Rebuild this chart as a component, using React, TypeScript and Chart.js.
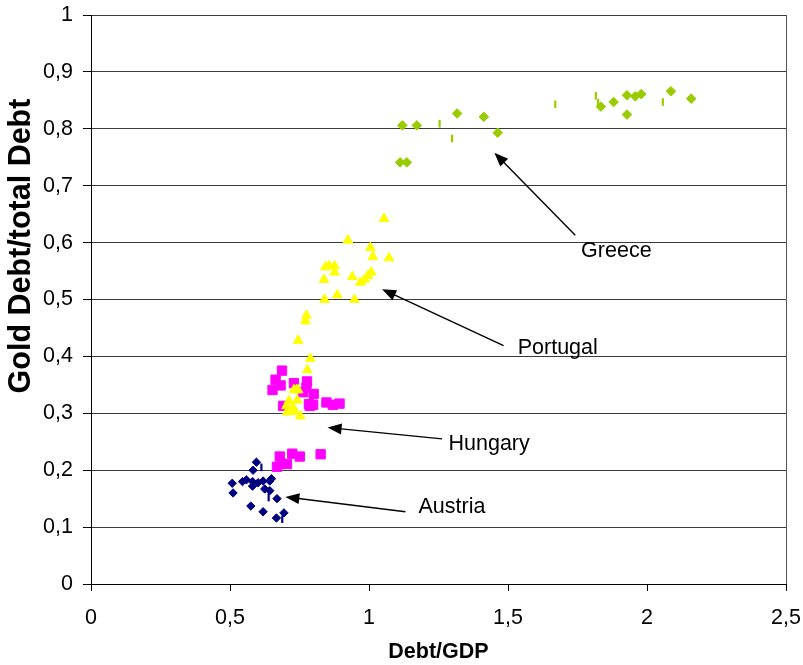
import React, { useEffect, useRef } from 'react';
import { Chart, registerables } from 'chart.js';

Chart.register(...registerables);

const FONT = '"Liberation Sans", Arial, sans-serif';

// ---- Data ----
const austriaX = [0.595, 0.583, 0.508, 0.511, 0.545, 0.559, 0.581, 0.581, 0.601, 0.619, 0.643, 0.649, 0.625, 0.643, 0.669, 0.575, 0.619, 0.667, 0.694];
const austriaY = [0.214, 0.200, 0.177, 0.160, 0.180, 0.183, 0.180, 0.172, 0.178, 0.181, 0.181, 0.185, 0.167, 0.164, 0.150, 0.137, 0.127, 0.116, 0.125];
const austriaTickX = [0.613, 0.639, 0.688];
const austriaTickY = [0.205, 0.152, 0.114];

const hungaryX = [0.669, 0.679, 0.685, 0.705, 0.724, 0.751, 0.826, 0.687, 0.664, 0.682, 0.653, 0.730, 0.777, 0.775, 0.801, 0.763, 0.784, 0.799, 0.847, 0.870, 0.894, 0.691, 0.787];
const hungaryY = [0.206, 0.224, 0.211, 0.211, 0.229, 0.224, 0.228, 0.375, 0.359, 0.349, 0.341, 0.353, 0.356, 0.345, 0.334, 0.337, 0.316, 0.315, 0.319, 0.315, 0.317, 0.313, 0.313];

const portugalX = [1.054, 0.924, 1.005, 1.014, 1.072, 0.843, 0.856, 0.876, 0.876, 0.838, 0.940, 1.008, 0.996, 0.984, 0.969, 0.840, 0.886, 0.948, 0.775, 0.771, 0.745, 0.789, 0.778, 0.739, 0.730, 0.745, 0.712, 0.742, 0.703, 0.727, 0.705, 0.733, 0.753];
const portugalY = [0.642, 0.604, 0.591, 0.575, 0.573, 0.557, 0.559, 0.559, 0.548, 0.535, 0.540, 0.548, 0.542, 0.535, 0.530, 0.500, 0.508, 0.500, 0.472, 0.462, 0.428, 0.396, 0.376, 0.341, 0.341, 0.341, 0.322, 0.323, 0.313, 0.310, 0.302, 0.303, 0.295];

const greeceX = [1.120, 1.172, 1.317, 1.413, 1.463, 1.834, 1.880, 1.928, 1.928, 1.958, 1.979, 2.086, 2.159, 1.112, 1.136];
const greeceY = [0.806, 0.806, 0.827, 0.821, 0.793, 0.839, 0.847, 0.859, 0.825, 0.857, 0.861, 0.866, 0.853, 0.741, 0.741];
const greeceTickX = [1.254, 1.299, 1.670, 1.816, 1.824, 2.057];
const greeceTickY = [0.809, 0.783, 0.843, 0.858, 0.846, 0.847];

const xTickLabels = ['0', '0,5', '1', '1,5', '2', '2,5'];
const yTickLabels = ['0', '0,1', '0,2', '0,3', '0,4', '0,5', '0,6', '0,7', '0,8', '0,9', '1'];

const noteLabels = ['Greece', 'Portugal', 'Hungary', 'Austria'];
const noteTipX = [1.451, 1.047, 0.851, 0.699];
const noteTipY = [0.758, 0.518, 0.275, 0.153];
const noteTailX = [1.742, 1.484, 1.263, 1.131];
const noteTailY = [0.613, 0.419, 0.255, 0.127];
const noteTextX = [1.763, 1.535, 1.286, 1.178];
const noteTextY = [0.585, 0.414, 0.2455, 0.136];

const xTitle = 'Debt/GDP';
const yTitle = 'Gold Debt/total Debt';

const zip = (xs: number[], ys: number[]) => xs.map((x, i) => ({ x, y: ys[i] }));

const annotationPlugin = {
  id: 'notes',
  afterDatasetsDraw(chart: any) {
    const { ctx, chartArea, scales } = chart;
    const xs = scales.x;
    const ys = scales.y;
    ctx.save();
    // right border of plot area
    ctx.strokeStyle = '#555';
    ctx.lineWidth = 1;
    ctx.beginPath();
    ctx.moveTo(Math.round(chartArea.right) + 0.5, chartArea.top);
    ctx.lineTo(Math.round(chartArea.right) + 0.5, chartArea.bottom);
    ctx.stroke();

    ctx.strokeStyle = '#000';
    ctx.fillStyle = '#000';
    ctx.lineWidth = 1.4;
    const hl = 14;
    const hw = 5.5;
    noteLabels.forEach((label, i) => {
      const x1 = xs.getPixelForValue(noteTailX[i]);
      const y1 = ys.getPixelForValue(noteTailY[i]);
      const x2 = xs.getPixelForValue(noteTipX[i]);
      const y2 = ys.getPixelForValue(noteTipY[i]);
      const ang = Math.atan2(y2 - y1, x2 - x1);
      const c = Math.cos(ang);
      const s = Math.sin(ang);
      ctx.beginPath();
      ctx.moveTo(x1, y1);
      ctx.lineTo(x2 - c * hl * 0.8, y2 - s * hl * 0.8);
      ctx.stroke();
      ctx.beginPath();
      ctx.moveTo(x2, y2);
      ctx.lineTo(x2 - hl * c + hw * s, y2 - hl * s - hw * c);
      ctx.lineTo(x2 - hl * c - hw * s, y2 - hl * s + hw * c);
      ctx.closePath();
      ctx.fill();

      ctx.font = `21.5px ${FONT}`;
      ctx.textAlign = 'left';
      ctx.textBaseline = 'middle';
      ctx.fillText(label, xs.getPixelForValue(noteTextX[i]), ys.getPixelForValue(noteTextY[i]));
    });

    // y axis title
    ctx.translate(22, 246);
    ctx.rotate(-Math.PI / 2);
    ctx.font = `bold 30.5px ${FONT}`;
    ctx.textAlign = 'center';
    ctx.textBaseline = 'middle';
    ctx.fillText(yTitle, 0, 0);
    ctx.restore();
  },
};

export default function App() {
  const ref = useRef<HTMLCanvasElement | null>(null);

  useEffect(() => {
    if (!ref.current) return;
    const chart = new Chart(ref.current, {
      type: 'scatter',
      data: {
        datasets: [
          {
            label: 'Greece',
            data: zip(greeceX, greeceY),
            pointStyle: 'rectRot',
            pointRadius: 4.8,
            backgroundColor: '#99CC00',
            borderColor: '#99CC00',
            borderWidth: 1,
          },
          {
            label: 'Greece (other)',
            data: zip(greeceTickX, greeceTickY),
            pointStyle: 'line',
            rotation: 90,
            pointRadius: 3.8,
            borderColor: '#99CC00',
            backgroundColor: '#99CC00',
            borderWidth: 2.2,
          },
          {
            label: 'Portugal',
            data: zip(portugalX, portugalY),
            pointStyle: 'triangle',
            pointRadius: 5.6,
            backgroundColor: '#FFFF00',
            borderColor: '#FFFF00',
            borderWidth: 1,
          },
          {
            label: 'Hungary',
            data: zip(hungaryX, hungaryY),
            pointStyle: 'rect',
            pointRadius: 6.6,
            backgroundColor: '#FF00FF',
            borderColor: '#FF00FF',
            borderWidth: 1,
          },
          {
            label: 'Austria',
            data: zip(austriaX, austriaY),
            pointStyle: 'rectRot',
            pointRadius: 4.2,
            backgroundColor: '#000080',
            borderColor: '#000080',
            borderWidth: 1,
          },
          {
            label: 'Austria (other)',
            data: zip(austriaTickX, austriaTickY),
            pointStyle: 'line',
            rotation: 90,
            pointRadius: 3.8,
            borderColor: '#000080',
            backgroundColor: '#000080',
            borderWidth: 2.2,
          },
        ],
      },
      options: {
        responsive: false,
        animation: false,
        devicePixelRatio: 1,
        layout: { padding: { top: 15, right: 17, left: 0, bottom: 0 } },
        plugins: {
          legend: { display: false },
          tooltip: { enabled: false },
        },
        scales: {
          x: {
            type: 'linear',
            min: 0,
            max: 2.5,
            ticks: {
              stepSize: 0.5,
              color: '#000',
              font: { family: FONT, size: 21.5 },
              padding: 14,
              maxRotation: 0,
              callback: (_v: any, i: number) => xTickLabels[i],
            },
            grid: { drawOnChartArea: false, drawTicks: true, tickLength: 7, tickColor: '#000' },
            border: { display: true, color: '#000', width: 1 },
            title: {
              display: true,
              text: xTitle,
              color: '#000',
              font: { family: FONT, size: 21.5, weight: 'bold' },
              padding: { top: 0, bottom: 0 },
            },
            afterFit: (s: any) => {
              s.height = 81;
              s.paddingLeft = 0;
              s.paddingRight = 0;
            },
          },
          y: {
            type: 'linear',
            min: 0,
            max: 1,
            ticks: {
              stepSize: 0.1,
              color: '#000',
              font: { family: FONT, size: 21.5 },
              padding: 10,
              callback: (_v: any, i: number) => yTickLabels[i],
            },
            grid: { color: '#3a3a3a', lineWidth: 1, drawTicks: true, tickLength: 8, tickColor: '#000' },
            border: { display: true, color: '#000', width: 1 },
            afterFit: (s: any) => {
              s.width = 91;
              s.paddingTop = 0;
              s.paddingBottom = 0;
            },
          },
        },
      },
      plugins: [annotationPlugin],
    } as any);
    return () => chart.destroy();
  }, []);

  return (
    <div style={{ position: 'absolute', left: 0, top: 0, width: 803, height: 665, background: '#fff' }}>
      <canvas ref={ref} width={803} height={665} style={{ width: 803, height: 665, display: 'block' }} />
    </div>
  );
}
